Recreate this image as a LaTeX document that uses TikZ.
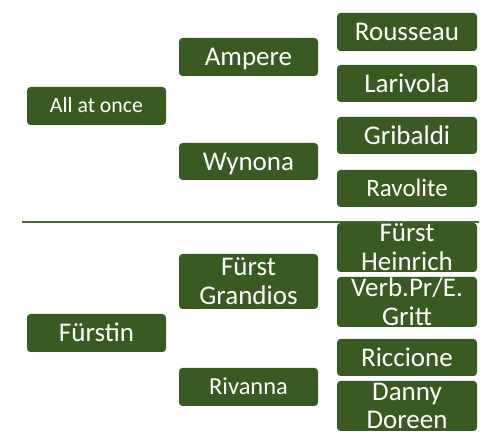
\documentclass[tikz,border=0pt]{standalone}
\usepackage{fontspec}
\setmainfont{Carlito}
\definecolor{boxgreen}{HTML}{3A5A24}
\definecolor{linegreen}{HTML}{4A6B38}
\begin{document}
\begin{tikzpicture}[x=1pt,y=-1pt,
  gbox/.style={fill=boxgreen, text=white, rounded corners=3.5pt, inner sep=0pt,
    minimum width=#1, font=\fontsize{27}{28.8}\selectfont, align=center},
  gbox/.default=139pt,
  one/.style={text height=#1, text depth=0pt},
  one/.default=17.4pt]
\useasboundingbox (0,0) rectangle (493,443);
\fill[white] (0,0) rectangle (493,443);
% upper tree
\node[gbox, one=14pt, minimum height=38pt, font=\fontsize{21.8}{24}\selectfont] (allatonce) at (96.5,106) {All at once};
\node[gbox, one, minimum height=38pt] (ampere) at (248.5,57) {Ampere};
\node[gbox, one, minimum height=37pt] (wynona) at (248.5,161.5) {Wynona};
\node[gbox=140pt, one, minimum height=38pt] (rousseau) at (407,32) {Rousseau};
\node[gbox=140pt, one, minimum height=37pt] (larivola) at (407,83.5) {Larivola};
\node[gbox=140pt, one, minimum height=37pt] (gribaldi) at (407,135.5) {Gribaldi};
\node[gbox=140pt, one=16.1pt, minimum height=37pt, font=\fontsize{25}{27}\selectfont] (ravolite) at (407,188.5) {Ravolite};
% separator
\coordinate (sepl) at (22,221.7);
\coordinate (sepr) at (479,221.7);
\draw[linegreen, line width=2pt] (sepl) -- (sepr);
% lower tree
\node[gbox, one, minimum height=38pt] (fuerstin) at (96.5,333) {Fürstin};
\node[gbox, minimum height=55pt] (grandios) at (248.5,281.5) {Fürst\\Grandios};
\node[gbox, one=15.7pt, minimum height=38pt, font=\fontsize{24.4}{27}\selectfont] (rivanna) at (248.5,387) {Rivanna};
\node[gbox=140pt, minimum height=49pt] (heinrich) at (407,247.5) {Fürst\\Heinrich};
\node[gbox=140pt, minimum height=50pt] (verb) at (407,302) {Verb.Pr/E.\\Gritt};
\node[gbox=140pt, one, minimum height=37pt] (riccione) at (407,357.5) {Riccione};
\node[gbox=140pt, minimum height=50pt] (danny) at (407,406) {Danny\\Doreen};
\end{tikzpicture}
\end{document}
